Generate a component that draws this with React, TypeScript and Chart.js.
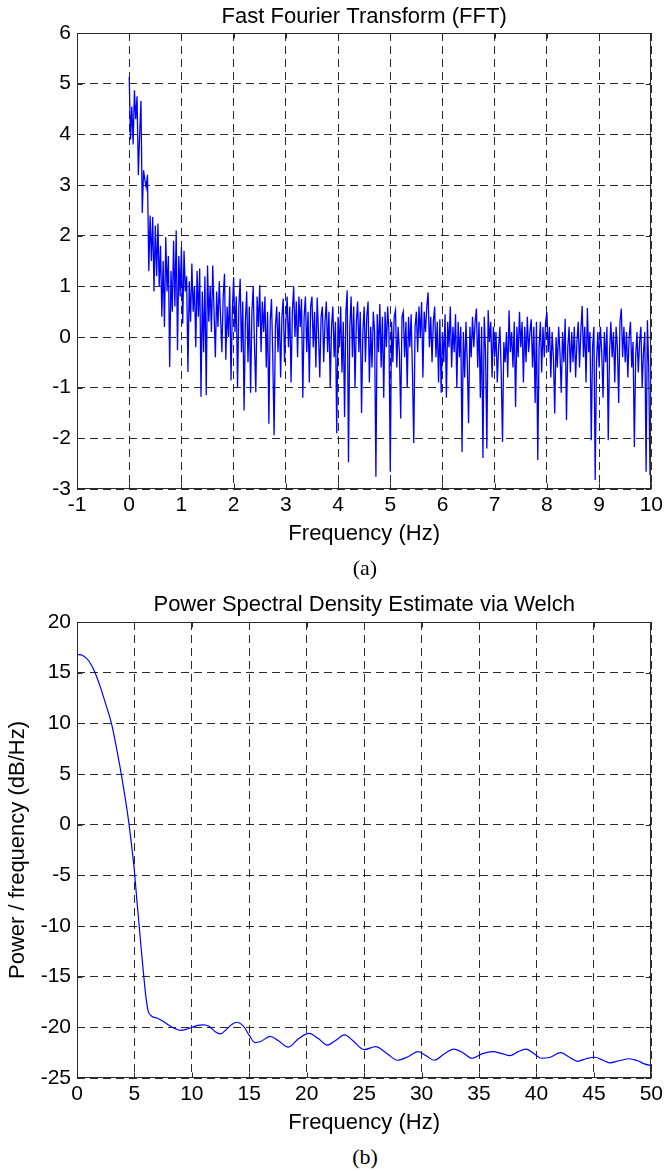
import React, { useEffect, useRef } from 'react';
import { Chart, registerables } from 'chart.js';

Chart.register(...registerables);

const FONT = "'Liberation Sans', Arial, Helvetica, sans-serif";
const SERIF = "'Liberation Serif', 'Times New Roman', serif";

// ---------- (a) FFT ----------
const FFT_TITLE = 'Fast Fourier Transform (FFT)';
const FFT_X_LABEL = 'Frequency (Hz)';
const FFT_X_RANGE = [-1, 10];
const FFT_Y_RANGE = [-3, 6];
const FFT_STEP_HZ = 0.025; // sampling grid of the spectrum
const FFT_VALUES = [
  5.13, 3.9, 4.55, 3.8, 4.87, 4.3, 4.75, 3.2, 4.0, 4.66, 2.45, 3.29, 3.1, 2.95, 3.2, 1.3, 2.4, 1.5, 2.37, 0.9,
  2.2, 1.2, 2.24, 1.0, 1.8, 0.4, 1.5, 0.2, 1.97, 0.9, 1.6, -0.59, 1.3, 0.5, 1.9, 0.6, 2.1, -0.26, 1.6, 0.8,
  1.78, 0.26, 1.7, 0.9, 1.2, -0.69, 1.1, 0.3, 1.45, 0.5, 1.0, -0.2, 1.3, 0.4, 1.35, -1.18, 0.9, -0.3, 1.2, -1.15,
  1.41, 0.3, 1.0, 0.1, 1.41, 0.5, -0.4, 0.9, 0.2, 1.1, 0.4, -0.3, 0.8, 1.25, -0.45, 0.6, 0.0, 1.0, -0.86, 0.5,
  1.18, 0.1, 0.8, -1.0, 0.6, 1.15, -0.3, 0.7, -1.45, 0.3, 0.9, -0.5, 0.6, -1.1, 0.5, 1.0, -0.2, -1.09, 0.8, 0.2,
  1.02, -0.3, 0.7, 0.1, 0.8, -0.6, 0.5, -1.71, 0.3, 0.75, -0.4, -1.94, 0.2, 0.6, -0.3, 0.5, -0.8, 0.4, 0.76, -0.5,
  0.3, 0.8, -0.2, 0.6, -0.9, 0.5, 1.0, 0.0, 0.7, -0.4, 0.8, 0.2, 0.75, -1.2, 0.4, 0.8, -0.3, 0.5, -0.9, 0.6,
  0.8, -0.2, 0.5, -0.6, 0.78, 0.1, -0.8, 0.4, 0.6, -0.5, 0.3, 0.7, -0.3, 0.5, -1.0, 0.2, 0.6, -0.4, 0.3, -1.9,
  0.4, -0.2, 0.6, -0.7, 0.3, -1.58, 0.5, 0.92, -2.47, 0.2, 0.8, -0.4, 0.6, -1.0, 0.3, 0.7, -0.3, 0.5, -1.5, 0.1,
  0.6, -0.5, 0.4, 0.7, -0.9, 0.2, -0.6, 0.5, 0.1, -2.76, 0.45, -0.3, 0.65, -0.6, 0.4, -1.2, 0.5, -0.2, 0.6, 0.1,
  -2.66, 0.3, -0.5, 0.4, 0.53, -0.6, 0.2, -0.3, -1.61, 0.4, 0.5, -0.4, 0.3, -1.0, 0.4, -0.2, 0.45, -0.7, -2.09, 0.2,
  0.5, -0.3, 0.6, 0.0, 0.69, -0.8, 0.5, 0.1, 0.6, 0.88, -0.2, 0.4, -0.5, 0.3, 0.6, -0.4, 0.3, -0.9, 0.35, -1.1,
  0.1, -0.5, 0.45, -1.2, 0.3, -0.2, 0.6, -0.6, 0.2, -0.3, 0.45, -1.0, 0.3, -0.4, 0.2, -2.27, 0.1, -0.8, 0.3, -0.5,
  -1.7, 0.2, -0.4, 0.4, -0.2, 0.3, 0.56, -0.6, 0.3, -1.2, 0.2, -2.39, 0.4, -0.3, -2.2, 0.53, -0.1, 0.3, -0.8, 0.2,
  -0.4, 0.1, -0.9, -0.2, 0.2, -0.7, -2.07, -0.1, -0.5, 0.1, -0.8, 0.53, -0.3, 0.1, -0.6, 0.3, -1.38, 0.2, -0.4, 0.5,
  -0.2, 0.3, -0.9, 0.2, -0.5, 0.4, -0.3, 0.1, 0.35, -0.6, 0.2, -1.3, 0.3, -2.43, -0.2, 0.3, -0.7, 0.2, -0.4, 0.3,
  0.49, -0.3, 0.2, -0.8, 0.1, -0.4, -1.51, 0.0, -0.6, 0.2, -0.3, -1.1, 0.1, -0.5, 0.36, -1.64, -0.2, 0.2, -0.7, 0.1,
  -0.5, 0.2, -0.8, -0.1, 0.3, -0.6, 0.1, 0.61, -0.4, 0.2, -0.9, 0.57, -0.3, 0.1, -2.04, -0.2, 0.2, -2.82, -0.5, 0.1,
  -0.6, 0.2, -0.3, -1.2, 0.1, -0.5, 0.2, -2.04, -0.3, 0.3, -0.4, 0.1, -0.9, 0.2, -0.2, -1.3, 0.3, 0.56, -0.4, 0.2,
  -0.5, 0.1, -0.8, 0.0, 0.3, -0.6, -0.1, -2.17, -0.4, 0.1, -0.7, -0.1, 0.2, -1.0, -0.3, 0.1, -2.66, 0.33, -0.6, -2.73,
  -0.33,
];
const FFT_FREQS = FFT_VALUES.map((_, i) => +(i * FFT_STEP_HZ).toFixed(3));

// ---------- (b) Welch PSD ----------
const PSD_TITLE = 'Power Spectral Density Estimate via Welch';
const PSD_X_LABEL = 'Frequency (Hz)';
const PSD_Y_LABEL = 'Power / frequency (dB/Hz)';
const PSD_X_RANGE = [0, 50];
const PSD_Y_RANGE = [-25, 20];
const PSD_FREQS = [
  0, 0.5, 1.0, 1.5, 2.0, 2.5, 3.0, 3.5, 4.0, 4.5, 4.8, 5.0, 5.2, 5.4, 5.6, 5.8, 6.0, 6.2, 6.5, 7.0,
  7.5, 8.0, 8.5, 9.0, 9.5, 10.0, 10.5, 11.0, 11.5, 12.0, 12.5, 13.0, 13.5, 13.9, 14.5, 15.0, 15.5, 16.0, 16.8, 17.5,
  18.4, 19.3, 20.2, 21.0, 21.8, 22.5, 23.3, 24.0, 25.0, 26.0, 27.0, 27.9, 28.8, 29.7, 30.4, 31.1, 32.0, 32.8, 33.6, 34.4,
  35.3, 36.2, 37.0, 37.7, 38.4, 39.1, 39.8, 40.4, 41.2, 42.1, 42.8, 43.6, 44.3, 45.1, 45.7, 46.4, 47.2, 48.1, 48.8, 49.4,
  50.0,
];
const PSD_DB = [
  16.8, 16.7, 16.2, 15.2, 13.7, 11.9, 10.0, 7.2, 4.0, 0.3, -2.5, -4.6, -7.3, -9.8, -12.4, -14.8, -17.0, -18.4, -18.9, -19.1,
  -19.4, -19.8, -20.1, -20.3, -20.2, -20.0, -19.8, -19.75, -19.9, -20.4, -20.65, -20.2, -19.7, -19.5, -19.9, -20.8, -21.5, -21.4, -20.9, -21.3,
  -21.95, -21.1, -20.6, -21.1, -21.75, -21.3, -20.75, -21.3, -22.2, -21.9, -22.6, -23.25, -22.9, -22.4, -22.8, -23.25, -22.6, -22.15, -22.5, -23.05,
  -22.6, -22.4, -22.6, -22.8, -22.4, -22.15, -22.6, -23.05, -22.95, -22.5, -22.9, -23.35, -23.1, -22.95, -23.2, -23.5, -23.3, -23.1, -23.3, -23.6,
  -23.8,
];

const LINE_COLOR = '#0000ff';
const GRID_COLOR = 'rgba(20,20,20,0.9)';
const BOX_COLOR = '#2a2a2a';

const boxPlugin = {
  id: 'matlabBox',
  afterDraw(chart: any) {
    const { ctx, chartArea: a, scales } = chart;
    const L = Math.round(a.left) + 0.5;
    const R = Math.round(a.right) - 0.5;
    const T = Math.round(a.top) + 0.5;
    const B = Math.round(a.bottom) - 0.5;
    ctx.save();
    ctx.setLineDash([]);
    ctx.strokeStyle = BOX_COLOR;
    ctx.lineWidth = 1;
    ctx.strokeRect(L, T, R - L, B - T);
    const len = 5;
    ctx.beginPath();
    scales.x.ticks.forEach((t: any) => {
      const px = Math.round(scales.x.getPixelForValue(t.value)) + 0.5;
      ctx.moveTo(px, B);
      ctx.lineTo(px, B - len);
      ctx.moveTo(px, T);
      ctx.lineTo(px, T + len);
    });
    scales.y.ticks.forEach((t: any) => {
      const py = Math.round(scales.y.getPixelForValue(t.value)) + 0.5;
      ctx.moveTo(L, py);
      ctx.lineTo(L + len, py);
      ctx.moveTo(R, py);
      ctx.lineTo(R - len, py);
    });
    ctx.stroke();
    ctx.restore();
  },
};

function makeAxis(range: number[], step: number, extra: any) {
  return {
    type: 'linear',
    min: range[0],
    max: range[1],
    grid: { color: GRID_COLOR, lineWidth: 1, drawTicks: false },
    border: { display: false, dash: [8, 5] },
    ticks: {
      stepSize: step,
      autoSkip: false,
      maxRotation: 0,
      color: '#000',
      font: { family: FONT, size: 21 },
    },
    ...extra,
  };
}

function FftChart() {
  const ref = useRef<HTMLCanvasElement>(null);
  useEffect(() => {
    const chart = new Chart(ref.current as HTMLCanvasElement, {
      type: 'line',
      data: {
        labels: FFT_FREQS,
        datasets: [
          {
            data: FFT_VALUES,
            borderColor: LINE_COLOR,
            borderWidth: 1.3,
            pointRadius: 0,
            tension: 0,
          },
        ],
      },
      options: {
        animation: false,
        responsive: false,
        events: [],
        layout: { padding: { left: 0, right: 13, top: 0, bottom: 0 } },
        plugins: {
          legend: { display: false },
          tooltip: { enabled: false },
          title: {
            display: true,
            fullSize: false,
            text: FFT_TITLE,
            color: '#000',
            font: { family: FONT, size: 22, weight: 'normal' },
            padding: { top: 3.5, bottom: 3.1 },
          },
        },
        scales: {
          x: makeAxis(FFT_X_RANGE, 1, {
            afterFit: (s: any) => { s.height = 71; },
            ticks: { stepSize: 1, autoSkip: false, maxRotation: 0, color: '#000', padding: 4, font: { family: FONT, size: 21 } },
            title: { display: true, text: FFT_X_LABEL, color: '#000', font: { family: FONT, size: 22 }, padding: { top: 0, bottom: 12.8 } },
          }),
          y: makeAxis(FFT_Y_RANGE, 1, {
            afterFit: (s: any) => { s.width = 77; },
            ticks: { stepSize: 1, autoSkip: false, color: '#000', padding: 6, font: { family: FONT, size: 21 } },
          }),
        },
      } as any,
      plugins: [boxPlugin],
    });
    return () => chart.destroy();
  }, []);
  return <canvas ref={ref} width={667} height={560} style={{ position: 'absolute', left: 0, top: 0 }} />;
}

function PsdChart() {
  const ref = useRef<HTMLCanvasElement>(null);
  useEffect(() => {
    const chart = new Chart(ref.current as HTMLCanvasElement, {
      type: 'line',
      data: {
        labels: PSD_FREQS,
        datasets: [
          {
            data: PSD_DB,
            borderColor: LINE_COLOR,
            borderWidth: 1.2,
            pointRadius: 0,
            cubicInterpolationMode: 'monotone',
          },
        ],
      },
      options: {
        animation: false,
        responsive: false,
        events: [],
        layout: { padding: { left: 0, right: 13, top: 0, bottom: 0 } },
        plugins: {
          legend: { display: false },
          tooltip: { enabled: false },
          title: {
            display: true,
            fullSize: false,
            text: PSD_TITLE,
            color: '#000',
            font: { family: FONT, size: 22, weight: 'normal' },
            padding: { top: 11.8, bottom: 3.8 },
          },
        },
        scales: {
          x: makeAxis(PSD_X_RANGE, 5, {
            afterFit: (s: any) => { s.height = 62; },
            ticks: { stepSize: 5, autoSkip: false, maxRotation: 0, color: '#000', padding: 4, font: { family: FONT, size: 21 } },
            title: { display: true, text: PSD_X_LABEL, color: '#000', font: { family: FONT, size: 22 }, padding: { top: 0, bottom: 3.4 } },
          }),
          y: makeAxis(PSD_Y_RANGE, 5, {
            afterFit: (s: any) => { s.width = 77; },
            ticks: { stepSize: 5, autoSkip: false, color: '#000', padding: 6, font: { family: FONT, size: 21 } },
            title: { display: true, text: PSD_Y_LABEL, color: '#000', font: { family: FONT, size: 22 }, padding: { top: 5, bottom: 0 } },
          }),
        },
      } as any,
      plugins: [boxPlugin],
    });
    return () => chart.destroy();
  }, []);
  return <canvas ref={ref} width={667} height={560} style={{ position: 'absolute', left: 0, top: 580 }} />;
}

function Caption({ text, y }: { text: string; y: number }) {
  return (
    <div
      style={{
        position: 'absolute',
        left: 265,
        width: 200,
        top: y - 12,
        height: 24,
        lineHeight: '24px',
        textAlign: 'center',
        fontFamily: SERIF,
        fontSize: 22,
        color: '#000',
      }}
    >
      {text}
    </div>
  );
}

export default function App() {
  return (
    <div style={{ position: 'absolute', left: 0, top: 0, width: 667, height: 1171, background: '#fff', overflow: 'hidden' }}>
      <FftChart />
      <Caption text="(a)" y={568} />
      <PsdChart />
      <Caption text="(b)" y={1157} />
    </div>
  );
}
